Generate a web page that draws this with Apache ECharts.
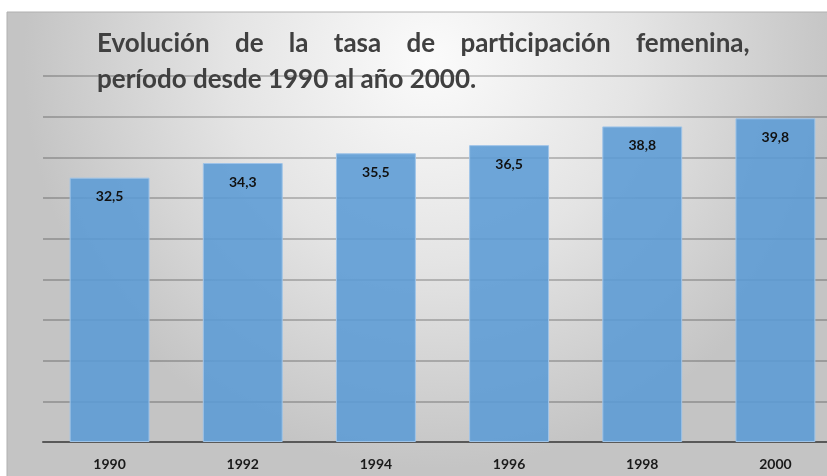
<!DOCTYPE html>
<html>
<head>
<meta charset="utf-8">
<script src="https://cdn.jsdelivr.net/npm/echarts@6/dist/echarts.min.js"></script>
<style>
  html, body { margin: 0; padding: 0; background: #fff; overflow: hidden; }
  #main { width: 842px; height: 476px; }
</style>
</head>
<body>
<div id="main"></div>
<script>
var years = ['1990', '1992', '1994', '1996', '1998', '2000'];
var tasa = [32.5, 34.3, 35.5, 36.5, 38.8, 39.8];
var titleLine1 = 'Evolución    de    la    tasa    de    participación    femenina,';
var titleLine2 = 'período desde 1990 al año 2000.';

var chart = echarts.init(document.getElementById('main'));

var font = 'Lato, "Open Sans", sans-serif';

var option = {
    animation: false,
    backgroundColor: '#ffffff',
    graphic: [{
        type: 'rect',
        z: -10,
        silent: true,
        shape: { x: 7, y: 12, width: 850, height: 480 },
        style: {
            fill: {
                type: 'radial', x: 0.5, y: 0.1, r: 0.85,
                colorStops: [
                    { offset: 0, color: '#fbfbfb' },
                    { offset: 0.5, color: '#e4e4e4' },
                    { offset: 1, color: '#c4c4c4' }
                ]
            },
            stroke: '#b0b0b0',
            lineWidth: 1
        }
    }],
    title: [{
        text: titleLine1,
        left: 92,
        top: 26,
        textStyle: { fontFamily: font, fontSize: 26, fontWeight: 'bold', color: '#404040' }
    }, {
        text: titleLine2,
        left: 92,
        top: 62,
        textStyle: { fontFamily: font, fontSize: 26, fontWeight: 'bold', color: '#404040' }
    }],
    grid: {
        left: 43,
        top: 76,
        right: 0,
        bottom: 34,
        containLabel: false
    },
    xAxis: {
        type: 'category',
        data: years,
        axisTick: { show: false },
        axisLine: { lineStyle: { color: '#595959', width: 2 } },
        axisLabel: {
            fontFamily: font, fontSize: 14, fontWeight: 'bold', color: '#1a1a1a', margin: 15
        }
    },
    yAxis: {
        type: 'value',
        min: 0,
        max: 45,
        interval: 5,
        axisLine: { show: false },
        axisTick: { show: false },
        axisLabel: { show: false },
        splitLine: { lineStyle: { color: 'rgba(0,0,0,0.28)', width: 1.5 } }
    },
    series: [{
        type: 'bar',
        data: tasa,
        barCategoryGap: '40%',
        itemStyle: {
            color: 'rgba(91,155,213,0.88)',
            borderColor: '#9fc4e8',
            borderWidth: 1
        },
        label: {
            show: true,
            position: 'insideTop',
            distance: 12,
            fontFamily: font,
            fontSize: 14,
            fontWeight: 'bold',
            color: '#111',
            formatter: function (p) {
                return p.value.toFixed(1).replace('.', ',');
            }
        }
    }]
};

chart.setOption(option);
</script>
</body>
</html>
